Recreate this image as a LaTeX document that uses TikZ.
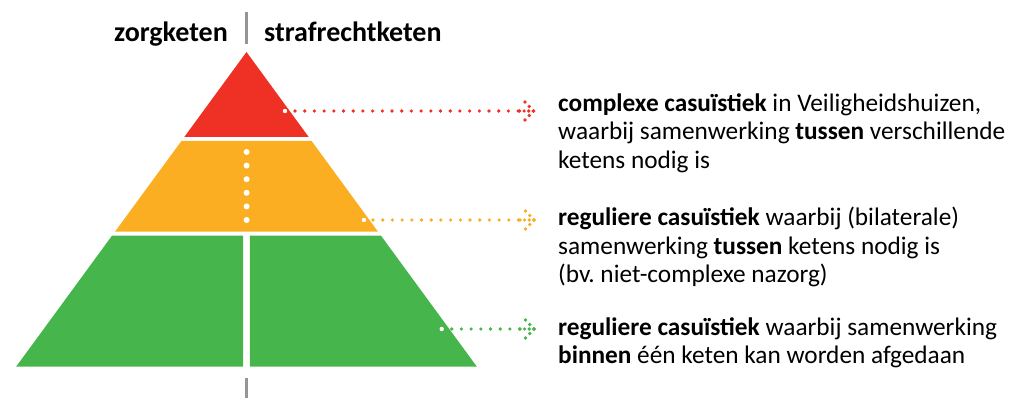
\documentclass[tikz,border=0pt]{standalone}
\usepackage{fontspec}
\setmainfont{Carlito}
\definecolor{rood}{HTML}{EE3124}
\definecolor{oranje}{HTML}{FBAE22}
\definecolor{groen}{HTML}{46B54B}
\definecolor{grijs}{HTML}{939598}
\frenchspacing
\begin{document}
\begin{tikzpicture}[x=1pt,y=-1pt,
    kop/.style={font=\bfseries\fontsize{28}{30}\selectfont, inner sep=0pt},
    uitleg/.style={font=\fontsize{25.3}{28.5}\selectfont, align=left, inner sep=0pt, anchor=base west},
    wdot/.style={circle, fill=white, inner sep=0pt, minimum size=4.4pt},
    stip/.style={line width=3.6pt, line cap=round, dash pattern=on 0pt off 9.7pt},
    punt/.style={line width=3.6pt, line cap=round, dash pattern=on 0pt off 4.6pt},
    pijlpunt/.style={line width=3.6pt, line cap=round, dash pattern=on 0pt off 6.2pt}]
    \useasboundingbox (0,0) rectangle (1019,398);
    \fill[rood] (246.5,52) -- (184.3,137) -- (308.7,137) -- cycle;
    \fill[oranje] (181.4,141) -- (311.6,141) -- (378,231.7) -- (115,231.7) -- cycle;
    \fill[groen] (112,235.7) -- (243.2,235.7) -- (243.2,366.7) -- (16.1,366.7) -- cycle;
    \fill[groen] (249.8,235.7) -- (381,235.7) -- (476.9,366.7) -- (249.8,366.7) -- cycle;
    \draw[white, line width=6pt, line cap=round, dash pattern=on 0pt off 13.6pt] (246.6,152) -- (246.6,221);
    \draw[grijs, line width=3pt] (246.5,11.7) -- (246.5,44.3);
    \draw[grijs, line width=3pt] (246.5,377.7) -- (246.5,398);
    \node[kop, anchor=base east] (zorg) at (228,41.7) {zorgketen};
    \node[kop, anchor=base west] (straf) at (264,41.7) {strafrechtketen};
    \node[uitleg] (complex) at (558,168) {\textbf{complexe casuïstiek} in Veiligheidshuizen,\\waarbij samenwerking \textbf{tussen} verschillende\\ketens nodig is};
    \node[uitleg] (bilateraal) at (558,282.5) {\textbf{reguliere casuïstiek} waarbij (bilaterale)\\samenwerking \textbf{tussen} ketens nodig is\\(bv. niet-complexe nazorg)};
    \node[uitleg] (binnen) at (558,363.5) {\textbf{reguliere casuïstiek} waarbij samenwerking\\\textbf{binnen} één keten kan worden afgedaan};
    \node[wdot] (rood-start) at (285,111) {};
    \coordinate (rood-tip) at (533.5,111);
    \draw[stip, rood, shorten <=10pt, shorten >=14pt] (rood-start.center) -- (rood-tip);
    \draw[punt, rood] ([xshift=-14pt]rood-tip) -- (rood-tip);
    \draw[pijlpunt, rood] (rood-tip) -- +(-8.6,-9.1);
    \draw[pijlpunt, rood] (rood-tip) -- +(-8.6,9.1);
    \node[wdot] (oranje-start) at (364,220) {};
    \coordinate (oranje-tip) at (534,220);
    \draw[stip, oranje, shorten <=9pt, shorten >=14pt] (oranje-start.center) -- (oranje-tip);
    \draw[punt, oranje] ([xshift=-14pt]oranje-tip) -- (oranje-tip);
    \draw[pijlpunt, oranje] (oranje-tip) -- +(-8.6,-9.1);
    \draw[pijlpunt, oranje] (oranje-tip) -- +(-8.6,9.1);
    \node[wdot] (groen-start) at (441.7,329) {};
    \coordinate (groen-tip) at (534,329);
    \draw[stip, groen, shorten <=10pt, shorten >=14pt] (groen-start.center) -- (groen-tip);
    \draw[punt, groen] ([xshift=-14pt]groen-tip) -- (groen-tip);
    \draw[pijlpunt, groen] (groen-tip) -- +(-8.6,-9.1);
    \draw[pijlpunt, groen] (groen-tip) -- +(-8.6,9.1);
\end{tikzpicture}
\end{document}
